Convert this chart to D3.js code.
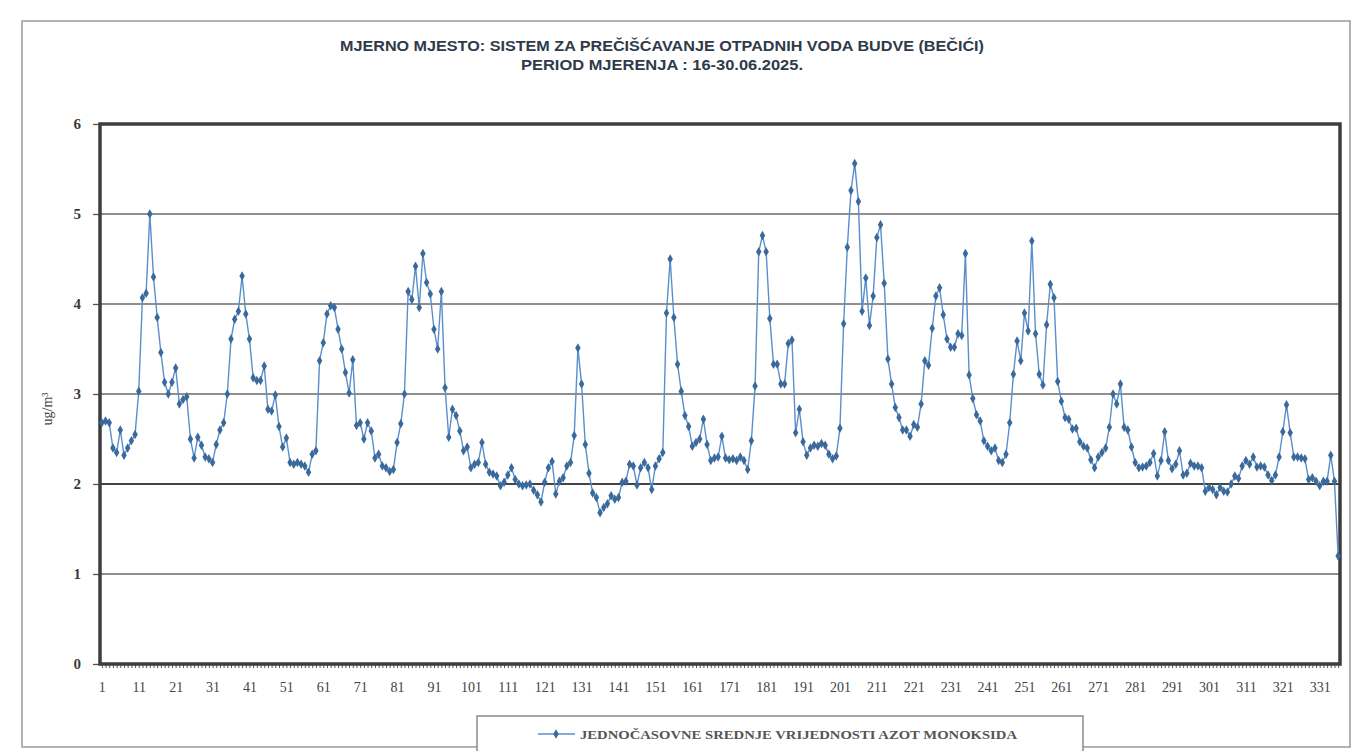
<!DOCTYPE html>
<html>
<head>
<meta charset="utf-8">
<script src="https://cdn.jsdelivr.net/npm/d3@7/dist/d3.min.js"></script>
<style>
  html, body { margin: 0; padding: 0; background: #fff; }
  svg { display: block; }
</style>
</head>
<body>
<svg id="chart" width="1354" height="751"></svg>
<script>
// ---- DATA ----
const titleLines = [
  "MJERNO MJESTO: SISTEM  ZA PREČIŠĆAVANJE  OTPADNIH VODA BUDVE (BEČIĆI)",
  "PERIOD MJERENJA  : 16-30.06.2025."
];
const yAxisTitle = "ug/m³";
const legendLabel = "JEDNOČASOVNE SREDNJE VRIJEDNOSTI AZOT MONOKSIDA";
const yTicks = [0, 1, 2, 3, 4, 5, 6];
const xTickLabels = [1, 11, 21, 31, 41, 51, 61, 71, 81, 91, 101, 111, 121, 131, 141, 151, 161, 171, 181, 191, 201, 211, 221, 231, 241, 251, 261, 271, 281, 291, 301, 311, 321, 331];
const noValues = [
  2.68, 2.70, 2.68, 2.40, 2.35, 2.60, 2.32, 2.40, 2.48, 2.55,
  3.03, 4.07, 4.12, 5.00, 4.30, 3.85, 3.46, 3.13, 3.00, 3.13,
  3.29, 2.89, 2.94, 2.97, 2.50, 2.29, 2.52, 2.43, 2.30, 2.28,
  2.24, 2.44, 2.60, 2.68, 3.00, 3.61, 3.83, 3.92, 4.31, 3.89,
  3.61, 3.18, 3.15, 3.15, 3.31, 2.83, 2.81, 2.99, 2.64, 2.41,
  2.51, 2.24, 2.22, 2.24, 2.22, 2.20, 2.13, 2.33, 2.37, 3.37,
  3.57, 3.89, 3.98, 3.96, 3.72, 3.50, 3.24, 3.01, 3.38, 2.65,
  2.68, 2.50, 2.68, 2.59, 2.29, 2.33, 2.20, 2.18, 2.14, 2.16,
  2.46, 2.67, 3.00, 4.14, 4.05, 4.42, 3.96, 4.56, 4.24, 4.11,
  3.72, 3.50, 4.14, 3.07, 2.52, 2.83, 2.76, 2.59, 2.37, 2.41,
  2.18, 2.22, 2.24, 2.46, 2.22, 2.13, 2.11, 2.09, 1.98, 2.02,
  2.10, 2.18, 2.05, 2.00, 1.98, 1.99, 2.00, 1.93, 1.88, 1.80,
  2.02, 2.18, 2.25, 1.89, 2.03, 2.07, 2.20, 2.24, 2.54, 3.51,
  3.11, 2.44, 2.12, 1.90, 1.85, 1.68, 1.74, 1.78, 1.87, 1.83,
  1.85, 2.02, 2.03, 2.22, 2.20, 1.99, 2.18, 2.24, 2.18, 1.94,
  2.20, 2.28, 2.35, 3.90, 4.50, 3.85, 3.33, 3.03, 2.76, 2.64,
  2.42, 2.46, 2.50, 2.72, 2.44, 2.26, 2.29, 2.30, 2.53, 2.29,
  2.27, 2.28, 2.26, 2.30, 2.26, 2.16, 2.48, 3.09, 4.58, 4.76,
  4.58, 3.84, 3.33, 3.33, 3.11, 3.11, 3.56, 3.60, 2.57, 2.83,
  2.47, 2.32, 2.40, 2.43, 2.42, 2.45, 2.43, 2.33, 2.28, 2.31,
  2.62, 3.78, 4.63, 5.26, 5.56, 5.14, 3.92, 4.29, 3.76, 4.09,
  4.74, 4.88, 4.23, 3.39, 3.11, 2.85, 2.74, 2.60, 2.60, 2.53,
  2.66, 2.63, 2.89, 3.37, 3.32, 3.73, 4.09, 4.18, 3.88, 3.61,
  3.52, 3.52, 3.67, 3.65, 4.56, 3.21, 2.95, 2.77, 2.70, 2.48,
  2.42, 2.37, 2.40, 2.26, 2.24, 2.33, 2.68, 3.22, 3.59, 3.37,
  3.90, 3.70, 4.70, 3.67, 3.22, 3.10, 3.77, 4.22, 4.07, 3.14,
  2.92, 2.74, 2.72, 2.61, 2.62, 2.47, 2.42, 2.40, 2.27, 2.18,
  2.30, 2.35, 2.40, 2.63, 3.00, 2.89, 3.11, 2.63, 2.60, 2.41,
  2.24, 2.18, 2.19, 2.20, 2.24, 2.34, 2.09, 2.26, 2.58, 2.26,
  2.17, 2.22, 2.37, 2.10, 2.12, 2.23, 2.20, 2.20, 2.18, 1.92,
  1.96, 1.94, 1.88, 1.96, 1.92, 1.91, 2.00, 2.09, 2.06, 2.20,
  2.26, 2.22, 2.30, 2.19, 2.20, 2.19, 2.10, 2.04, 2.10, 2.30,
  2.58, 2.88, 2.57, 2.30, 2.30, 2.29, 2.28, 2.05, 2.07, 2.03,
  1.98, 2.03, 2.03, 2.32, 2.03, 1.20
];
const hours = noValues.map((v, i) => i + 1);

// ---- DRAWING ----
const svg = d3.select("#chart");
const W = 1354, H = 751;
const plot = { left: 100, right: 1340, top: 124, bottom: 664 };

// outer chart border
svg.append("rect")
  .attr("x", 22).attr("y", 21).attr("width", 1328).attr("height", 726)
  .attr("fill", "#fff").attr("stroke", "#9a9a9a").attr("stroke-width", 1.5);

// title
const titleG = svg.append("g");
titleG.append("text")
  .attr("x", 662).attr("y", 51)
  .attr("text-anchor", "middle")
  .attr("font-family", "'Liberation Sans Narrow', 'Liberation Sans', sans-serif")
  .attr("font-weight", "bold").attr("font-size", 14)
  .attr("fill", "#2f3a4a")
  .attr("textLength", 644).attr("lengthAdjust", "spacingAndGlyphs")
  .text(titleLines[0]);
titleG.append("text")
  .attr("x", 662).attr("y", 70)
  .attr("text-anchor", "middle")
  .attr("font-family", "'Liberation Sans Narrow', 'Liberation Sans', sans-serif")
  .attr("font-weight", "bold").attr("font-size", 14)
  .attr("fill", "#2f3a4a")
  .attr("textLength", 282).attr("lengthAdjust", "spacingAndGlyphs")
  .text(titleLines[1]);

// scales
const x = d3.scaleLinear().domain([0.5, noValues.length + 0.5]).range([plot.left, plot.right]);
const y = d3.scaleLinear().domain([0, 6]).range([plot.bottom, plot.top]);

// gridlines
svg.append("g").selectAll("line")
  .data(yTicks.filter(t => t > 0 && t < 6))
  .join("line")
  .attr("x1", plot.left).attr("x2", plot.right)
  .attr("y1", d => y(d)).attr("y2", d => y(d))
  .attr("stroke", d => d === 2 ? "#444" : "#6a6a6a")
  .attr("stroke-width", d => d === 2 ? 2 : 1.3);

// y axis
const yAxis = d3.axisLeft(y).tickValues(yTicks).tickSize(7).tickPadding(12).tickFormat(d3.format("d"));
const yG = svg.append("g").attr("transform", `translate(${plot.left},0)`).call(yAxis);
yG.select(".domain").remove();
yG.selectAll(".tick line").attr("stroke", "#555").attr("stroke-width", 1.3);
yG.selectAll(".tick text")
  .attr("font-family", "'Liberation Serif', serif")
  .attr("font-weight", "bold").attr("font-size", 15)
  .attr("fill", "#3a3a3a");

// x axis: minor ticks at every hour
const xMinor = d3.axisBottom(x).tickValues(hours).tickSize(4).tickFormat("");
const xmG = svg.append("g").attr("transform", `translate(0,${plot.bottom})`).call(xMinor);
xmG.select(".domain").remove();
xmG.selectAll(".tick line").attr("stroke", "#555").attr("stroke-width", 1);

const xAxis = d3.axisBottom(x).tickValues(xTickLabels).tickSize(0).tickPadding(18).tickFormat(d3.format("d"));
const xG = svg.append("g").attr("transform", `translate(0,${plot.bottom})`).call(xAxis);
xG.select(".domain").remove();
xG.selectAll(".tick text")
  .attr("font-family", "'Liberation Serif', serif")
  .attr("font-size", 14)
  .attr("fill", "#444");

// y axis title
svg.append("text")
  .attr("transform", `translate(52,${(plot.top + plot.bottom) / 2 + 15}) rotate(-90)`)
  .attr("text-anchor", "middle")
  .attr("font-family", "'Liberation Serif', serif")
  .attr("font-size", 14)
  .attr("fill", "#444")
  .text(yAxisTitle);

// plot border
svg.append("rect")
  .attr("x", plot.left).attr("y", plot.top)
  .attr("width", plot.right - plot.left).attr("height", plot.bottom - plot.top)
  .attr("fill", "none").attr("stroke", "#3d3d3d").attr("stroke-width", 3.5);

// series line
const line = d3.line().x((d, i) => x(i + 1)).y(d => y(d));
svg.append("path")
  .datum(noValues)
  .attr("d", line)
  .attr("fill", "none")
  .attr("stroke", "#5b8fcc")
  .attr("stroke-width", 1.4);

// diamond markers
const diamond = d3.symbol().type(d3.symbolDiamond).size(26);
svg.append("g").selectAll("path")
  .data(noValues)
  .join("path")
  .attr("d", diamond)
  .attr("transform", (d, i) => `translate(${x(i + 1)},${y(d)})`)
  .attr("fill", "#3a6a9c");

// legend
const lg = svg.append("g");
lg.append("rect")
  .attr("x", 477).attr("y", 716).attr("width", 606).attr("height", 40)
  .attr("fill", "#fff").attr("stroke", "#8a8a8a").attr("stroke-width", 1.5);
lg.append("line")
  .attr("x1", 538).attr("x2", 575).attr("y1", 734).attr("y2", 734)
  .attr("stroke", "#5b8fcc").attr("stroke-width", 1.4);
lg.append("path")
  .attr("d", diamond)
  .attr("transform", "translate(556,734)")
  .attr("fill", "#3a6a9c");
lg.append("text")
  .attr("x", 580).attr("y", 739)
  .attr("font-family", "'Liberation Serif', serif")
  .attr("font-weight", "bold").attr("font-size", 12)
  .attr("fill", "#555")
  .attr("textLength", 437).attr("lengthAdjust", "spacingAndGlyphs")
  .text(legendLabel);
</script>
</body>
</html>
